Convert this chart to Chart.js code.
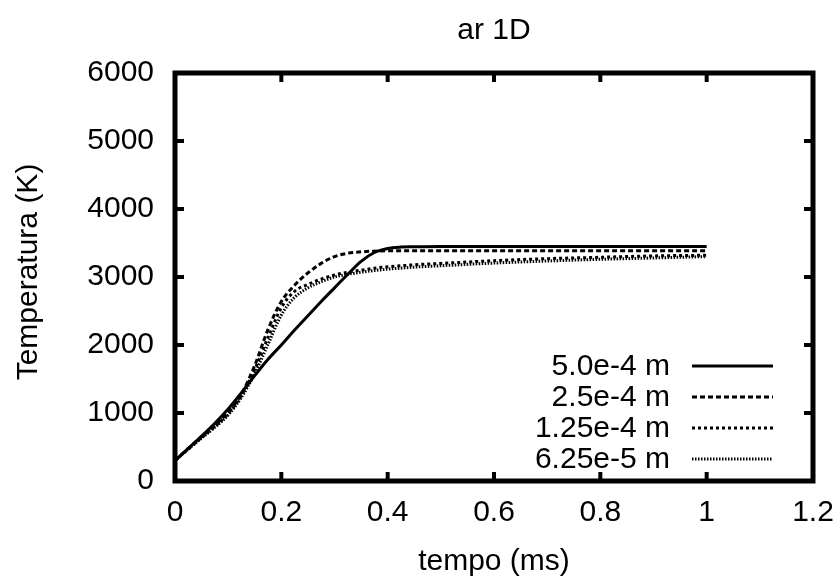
<!DOCTYPE html>
<html>
<head>
<meta charset="utf-8">
<script src="https://cdn.jsdelivr.net/npm/chart.js@4/dist/chart.umd.min.js"></script>
<style>
html,body{margin:0;padding:0;background:#fff;}
#wrap{width:840px;height:579px;}
</style>
</head>
<body>
<div id="wrap"><canvas id="c" width="840" height="579"></canvas></div>
<script>
// ---- data ----
const tempo = [0,0.025,0.05,0.075,0.1,0.125,0.15,0.175,0.2,0.225,0.25,0.275,0.3,0.325,0.35,0.375,0.4,0.425,0.45,0.5,0.6,0.7,0.8,0.9,1.0];
const T_5_0e4  = [300,480,660,850,1060,1300,1550,1790,2000,2220,2430,2640,2840,3040,3230,3360,3420,3440,3445,3450,3450,3450,3450,3450,3450];
const T_2_5e4  = [300,480,650,820,1010,1280,1700,2230,2640,2880,3060,3200,3300,3350,3370,3380,3385,3385,3385,3385,3385,3385,3385,3385,3385];
const T_1_25e4 = [300,470,640,800,990,1260,1640,2110,2550,2790,2890,2970,3030,3070,3100,3130,3150,3165,3180,3200,3240,3270,3290,3310,3320];
const T_6_25e5 = [300,470,630,790,970,1230,1580,2010,2440,2700,2840,2930,3000,3040,3070,3095,3115,3130,3145,3165,3205,3235,3260,3280,3300];
const seriesLabels = ['5.0e-4 m','2.5e-4 m','1.25e-4 m','6.25e-5 m'];
const xTicks = [0,0.2,0.4,0.6,0.8,1,1.2];
const xTickLabels = ['0','0.2','0.4','0.6','0.8','1','1.2'];
const yTicks = [0,1000,2000,3000,4000,5000,6000];
const yTickLabels = ['0','1000','2000','3000','4000','5000','6000'];
const titleText = 'ar 1D';
const xTitle = 'tempo (ms)';
const yTitle = 'Temperatura (K)';

const FONT = '"Liberation Sans", Arial, Helvetica, sans-serif';
const FS = 30;

const seriesValues = [T_5_0e4, T_2_5e4, T_1_25e4, T_6_25e5];
const dashes = [[], [5,3], [3,3], [1.5,1.5]];
const widths = [3, 3, 3, 3];

const datasets = seriesValues.map((vals, i) => ({
  label: seriesLabels[i],
  data: tempo.map((t, j) => ({x: t, y: vals[j]})),
  borderColor: '#000',
  borderWidth: widths[i],
  borderDash: dashes[i],
  pointRadius: 0,
  fill: false,
  cubicInterpolationMode: 'monotone'
}));

const decor = {
  id: 'decor',
  afterDraw(chart) {
    const ctx = chart.ctx;
    const ca = chart.chartArea;
    const xs = chart.scales.x, ys = chart.scales.y;
    ctx.save();
    ctx.strokeStyle = '#000';
    ctx.lineWidth = 5;
    ctx.setLineDash([]);
    ctx.strokeRect(ca.left, ca.top, ca.right - ca.left, ca.bottom - ca.top);
    ctx.lineWidth = 4;
    const L = 9;
    ctx.beginPath();
    xTicks.forEach(v => {
      const p = xs.getPixelForValue(v);
      ctx.moveTo(p, ca.bottom); ctx.lineTo(p, ca.bottom - L);
      ctx.moveTo(p, ca.top); ctx.lineTo(p, ca.top + L);
    });
    yTicks.forEach(v => {
      const p = ys.getPixelForValue(v);
      ctx.moveTo(ca.left, p); ctx.lineTo(ca.left + L, p);
      ctx.moveTo(ca.right, p); ctx.lineTo(ca.right - L, p);
    });
    ctx.stroke();
    ctx.fillStyle = '#000';
    ctx.font = FS + 'px ' + FONT;
    ctx.textAlign = 'center';
    ctx.textBaseline = 'middle';
    ctx.fillText(titleText, (ca.left + ca.right) / 2, 31);
    ctx.fillText(xTitle, (ca.left + ca.right) / 2, 562);
    ctx.save();
    ctx.translate(29, 272);
    ctx.rotate(-Math.PI / 2);
    ctx.fillText(yTitle, 0, 0);
    ctx.restore();
    chart.data.datasets.forEach((ds, i) => {
      const y = 366 + 31 * i;
      ctx.textAlign = 'right';
      ctx.fillText(ds.label, 670, y + 1);
      ctx.beginPath();
      ctx.lineWidth = ds.borderWidth;
      ctx.setLineDash(ds.borderDash);
      ctx.moveTo(692, y);
      ctx.lineTo(773, y);
      ctx.stroke();
    });
    ctx.restore();
  }
};

new Chart(document.getElementById('c'), {
  type: 'line',
  data: { datasets },
  options: {
    responsive: false,
    animation: false,
    devicePixelRatio: 1,
    layout: { padding: { top: 73, right: 27, left: 0, bottom: 0 } },
    plugins: { legend: { display: false }, title: { display: false }, tooltip: { enabled: false } },
    scales: {
      x: {
        type: 'linear', min: 0, max: 1.2,
        afterBuildTicks: s => { s.ticks = xTicks.map(v => ({value: v})); },
        afterFit: s => { s.height = 98; s.paddingLeft = 0; s.paddingRight = 0; },
        grid: { display: false, drawTicks: false },
        border: { display: false },
        ticks: { color: '#000', font: { family: FONT, size: FS }, padding: 14, maxRotation: 0, autoSkip: false,
                 callback: (v, i) => xTickLabels[i] }
      },
      y: {
        type: 'linear', min: 0, max: 6000,
        afterBuildTicks: s => { s.ticks = yTicks.map(v => ({value: v})); },
        afterFit: s => { s.width = 175; s.paddingTop = 0; s.paddingBottom = 0; },
        grid: { display: false, drawTicks: false },
        border: { display: false },
        ticks: { color: '#000', font: { family: FONT, size: FS }, padding: 21, autoSkip: false,
                 callback: (v, i) => yTickLabels[i] }
      }
    }
  },
  plugins: [decor]
});
</script>
</body>
</html>
